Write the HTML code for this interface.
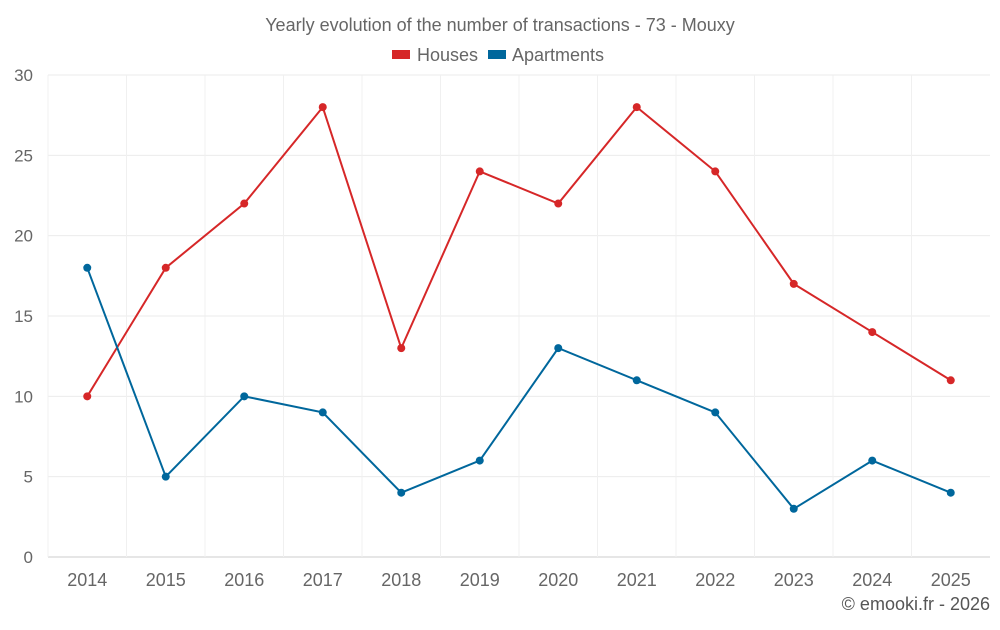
<!DOCTYPE html>
<html><head><meta charset="utf-8"><style>
body{margin:0;background:#fff;font-family:"Liberation Sans",sans-serif;}
svg text{font-family:"Liberation Sans",sans-serif;}
</style></head><body>
<svg id="c" width="1000" height="625">
<text x="500" y="31" text-anchor="middle" font-size="18" fill="#666">Yearly evolution of the number of transactions - 73 - Mouxy</text>
<g>
<g><rect x="392" y="50" width="18" height="9" fill="#d62728"/><text x="417" y="61" font-size="18" fill="#666">Houses</text></g>
<g><rect x="488" y="50" width="18" height="9" fill="#00679c"/><text x="512" y="61" font-size="18" fill="#666">Apartments</text></g>
</g>
<g id="grid"></g>
<g id="axes"></g>
<g id="series"></g>
<text x="990" y="610" text-anchor="end" font-size="18" fill="#555">© emooki.fr - 2026</text>
</svg>
<script>
const categories=["2014","2015","2016","2017","2018","2019","2020","2021","2022","2023","2024","2025"];
const houses=[10,18,22,28,13,24,22,28,24,17,14,11];
const apartments=[18,5,10,9,4,6,13,11,9,3,6,4];
const yTicks=[0,5,10,15,20,25,30];
const L=48,R=990,T=75,B=557,YMAX=30;
const bw=(R-L)/categories.length;
const x=i=>L+bw*(i+0.5);
const y=v=>B-(B-T)*v/YMAX;
const NS="http://www.w3.org/2000/svg";
function mk(tag,attrs,parent){const e=document.createElementNS(NS,tag);for(const k in attrs)e.setAttribute(k,attrs[k]);parent.appendChild(e);return e;}
const grid=document.getElementById('grid'),axes=document.getElementById('axes'),series=document.getElementById('series');
yTicks.forEach(v=>{
  const l=mk('line',{x1:L,x2:R,y1:y(v),y2:y(v),stroke:v===0?'#ccc':'#ebebeb','stroke-width':1},grid);
  
  
  const t=mk('text',{x:L-15,y:y(v)+6,'text-anchor':'end','font-size':17,fill:'#666'},axes);
  t.textContent=v;
  
  
});
categories.forEach((c,i)=>{
  const gl=mk('line',{x1:L+bw*i,x2:L+bw*i,y1:T,y2:B,stroke:'#f0f0f0','stroke-width':1},grid);
  
  
  const t=mk('text',{x:x(i),y:B+29,'text-anchor':'middle','font-size':18,fill:'#666'},axes);
  t.textContent=c;
  
  
});
function draw(data,color,name){
  const p=mk('polyline',{points:data.map((v,i)=>x(i)+','+y(v)).join(' '),fill:'none',stroke:color,'stroke-width':2},series);
  
  
  data.forEach((v,i)=>{
    const c=mk('circle',{cx:x(i),cy:y(v),r:4,fill:color},series);
    
    
  });
}
draw(houses,'#d62728','houses');
draw(apartments,'#00679c','apartments');
</script>
</body></html>
